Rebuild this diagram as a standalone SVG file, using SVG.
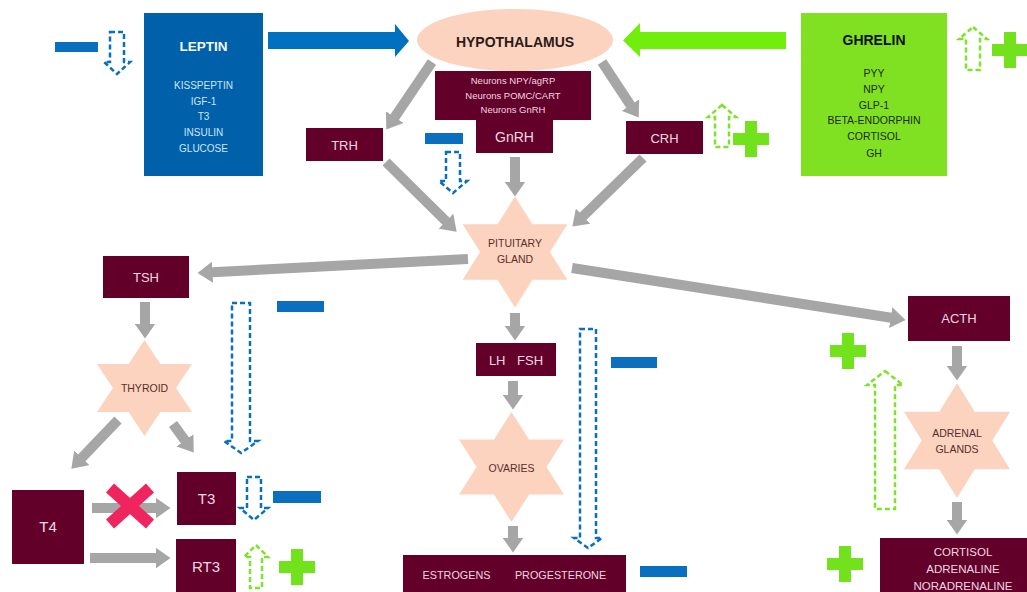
<svg xmlns="http://www.w3.org/2000/svg" xmlns:xlink="http://www.w3.org/1999/xlink" width="1027" height="592" viewBox="0 0 1027 592">
<style>
text{font-family:"Liberation Sans",Arial,sans-serif;text-anchor:middle}
.mb{fill:#62002A}
.mt{fill:#F2D6E0}
.st{fill:#FBD3BE}
.stt{fill:#5A2E2E;font-size:10.5px}
.g{stroke:#A6A6A6;stroke-width:10;fill:none;marker-end:url(#ah)}
.db{fill:none;stroke:#0A6FBF;stroke-width:2.5;stroke-dasharray:5 3}
.dg{fill:none;stroke:#7EE22A;stroke-width:2.5;stroke-dasharray:5 3}
.minus{fill:#0A6FBF}
.plus{fill:#72E21C}
.lt{fill:#CFE6F7;font-size:10px}
.gt{fill:#1E2A0E;font-size:10.5px}
</style>
<defs>
<marker id="ah" viewBox="0 -1.05 1.5 2.1" markerWidth="1.5" markerHeight="2.1" refX="0.05" refY="0" orient="auto" markerUnits="strokeWidth">
<path d="M0,-1.05 L1.5,0 L0,1.05 Z" fill="#A6A6A6"/>
</marker>
<polygon id="star" points="0,-100 28.9,-50 86.6,-50 57.7,0 86.6,50 28.9,50 0,100 -28.9,50 -86.6,50 -57.7,0 -86.6,-50 -28.9,-50"/>
<path id="plus" d="M-18,-6 H-6 V-18 H6 V-6 H18 V6 H6 V18 H-6 V6 H-18 Z"/>
</defs>
<rect width="1027" height="592" fill="#FFFFFF"/>

<g id="connectors">
<path class="g" d="M432,62 L394.4,117.6"/>
<path class="g" d="M602,62 L630.7,105.5"/>
<path class="g" d="M515,157 L515,182"/>
<path class="g" d="M386,162 L446.3,221.5"/>
<path class="g" d="M643,158 L582.8,216.5"/>
<path class="g" d="M468,259 L212,272.2"/>
<path class="g" d="M572,268 L891.2,317.7"/>
<path class="g" d="M515,313 L515,326"/>
<path class="g" d="M513,381 L513,395"/>
<path class="g" d="M513,526 L513,538"/>
<path class="g" d="M145,302 L145,324"/>
<path class="g" d="M118,420 L81.4,458.2"/>
<path class="g" d="M173,424 L185.2,440.8"/>
<path class="g" d="M92,508 L156,508"/>
<path class="g" d="M90,558 L156,558"/>
<path class="g" d="M957,346 L957,366"/>
<path class="g" d="M957,502 L957,520"/>
<polygon id="leptin-arrow" fill="#0070C0" points="268,32 395,32 395,24 409,41 395,57 395,49 268,49"/>
<polygon id="ghrelin-arrow" fill="#72EE0C" points="786,32 640,32 640,23 623,40.5 640,57 640,49 786,49"/>
</g>

<g id="effects">
<rect class="minus" x="55" y="42" width="43" height="10"/>
<rect class="minus" x="425" y="133" width="38" height="11"/>
<rect class="minus" x="277" y="301" width="47" height="11"/>
<rect class="minus" x="273" y="491" width="48" height="12"/>
<rect class="minus" x="611" y="357" width="46" height="11"/>
<rect class="minus" x="640" y="566" width="47" height="11"/>
<polygon class="db" points="110,32 124,32 124,62 130,62 117,74 104,62 110,62"/>
<polygon class="db" points="446,152 460,152 460,181 467,181 453,193 439,181 446,181"/>
<polygon class="db" points="232,303 250,303 250,441 258,441 241,453 224,441 232,441"/>
<polygon class="db" points="247,477 261,477 261,508 268,508 254,520 240,508 247,508"/>
<polygon class="db" points="580,329 596,329 596,538 602,538 588,548 574,538 580,538"/>
<polygon class="dg" points="973,27 987,39 980,39 980,70 966,70 966,39 959,39"/>
<polygon class="dg" points="722,105 736,117 729,117 729,147 715,147 715,117 708,117"/>
<polygon class="dg" points="256,545 268,557 262,557 262,588 250,588 250,557 244,557"/>
<polygon class="dg" points="885,371 903,385 895,385 895,509 875,509 875,385 867,385"/>
<use xlink:href="#plus" class="plus" transform="translate(1010,50)"/>
<use xlink:href="#plus" class="plus" transform="translate(751,139)"/>
<use xlink:href="#plus" class="plus" transform="translate(297,567)"/>
<use xlink:href="#plus" class="plus" transform="translate(848,351)"/>
<use xlink:href="#plus" class="plus" transform="translate(845,564)"/>
<g id="block-x" stroke="#F0245E" stroke-width="12">
<line x1="110" y1="488" x2="150" y2="524"/>
<line x1="150" y1="488" x2="110" y2="524"/>
</g>
</g>

<g id="leptin">
<rect x="144" y="13" width="119" height="163" fill="#0060AA"/>
<text x="203.5" y="51" fill="#F4F8FC" font-size="13.5" font-weight="bold">LEPTIN</text>
<text class="lt" x="203.5" y="89">KISSPEPTIN</text>
<text class="lt" x="203.5" y="105">IGF-1</text>
<text class="lt" x="203.5" y="120">T3</text>
<text class="lt" x="203.5" y="136">INSULIN</text>
<text class="lt" x="203.5" y="152">GLUCOSE</text>
</g>

<g id="ghrelin">
<rect x="801" y="13" width="146" height="163" fill="#80E022"/>
<text x="874" y="45" fill="#111" font-size="14" font-weight="bold">GHRELIN</text>
<text class="gt" x="874" y="77">PYY</text>
<text class="gt" x="874" y="93">NPY</text>
<text class="gt" x="874" y="109">GLP-1</text>
<text class="gt" x="874" y="124">BETA-ENDORPHIN</text>
<text class="gt" x="874" y="140">CORTISOL</text>
<text class="gt" x="874" y="157">GH</text>
</g>

<g id="hypothalamus">
<ellipse cx="515" cy="40" rx="98" ry="31" fill="#FBD3BE"/>
<text x="515" y="47" fill="#2A1A1A" font-size="14" font-weight="bold">HYPOTHALAMUS</text>
</g>

<g id="neurons">
<rect class="mb" x="435" y="71" width="156" height="49"/>
<text class="mt" x="513" y="84" font-size="9.5">Neurons NPY/agRP</text>
<text class="mt" x="513" y="99" font-size="9.5">Neurons POMC/CART</text>
<text class="mt" x="513" y="113" font-size="9.5">Neurons GnRH</text>
</g>

<g id="gnrh">
<rect class="mb" x="476" y="120" width="77" height="33"/>
<text class="mt" x="514.5" y="142" font-size="14">GnRH</text>
</g>

<g id="trh">
<rect class="mb" x="306" y="128" width="77" height="33"/>
<text class="mt" x="344.5" y="149.5" font-size="13">TRH</text>
</g>

<g id="crh">
<rect class="mb" x="626" y="121" width="77" height="33"/>
<text class="mt" x="664.5" y="142.5" font-size="13">CRH</text>
</g>

<g id="pituitary">
<use xlink:href="#star" class="st" transform="translate(515,252) scale(0.605,0.555)"/>
<text class="stt" x="515" y="247" font-size="10">PITUITARY</text>
<text class="stt" x="515" y="263" font-size="10">GLAND</text>
</g>

<g id="tsh">
<rect class="mb" x="103" y="256" width="86" height="42"/>
<text class="mt" x="146" y="281.5" font-size="13">TSH</text>
</g>

<g id="thyroid">
<use xlink:href="#star" class="st" transform="translate(144.5,388) scale(0.548,0.48)"/>
<text class="stt" x="144.5" y="392">THYROID</text>
</g>

<g id="t4">
<rect class="mb" x="12" y="490" width="72" height="74"/>
<text class="mt" x="48" y="532" font-size="15">T4</text>
</g>

<g id="t3">
<rect class="mb" x="177" y="472" width="59" height="53"/>
<text class="mt" x="206.5" y="504" font-size="15">T3</text>
</g>

<g id="rt3">
<rect class="mb" x="176" y="539" width="60" height="56"/>
<text class="mt" x="206" y="572" font-size="15">RT3</text>
</g>

<g id="lhfsh">
<rect class="mb" x="476" y="343" width="80" height="33"/>
<text class="mt" x="516" y="364.5" font-size="13" word-spacing="8">LH FSH</text>
</g>

<g id="ovaries">
<use xlink:href="#star" class="st" transform="translate(511.5,467) scale(0.606,0.55)"/>
<text class="stt" x="511.5" y="472" font-size="12">OVARIES</text>
</g>

<g id="estrogens">
<rect class="mb" x="403" y="555" width="223" height="40"/>
<text class="mt" x="456.5" y="579" font-size="10.8">ESTROGENS</text>
<text class="mt" x="560.5" y="579" font-size="10.8">PROGESTERONE</text>
</g>

<g id="acth">
<rect class="mb" x="908" y="296" width="102" height="45"/>
<text class="mt" x="959" y="323" font-size="13">ACTH</text>
</g>

<g id="adrenal">
<use xlink:href="#star" class="st" transform="translate(957,440.5) scale(0.612,0.575)"/>
<text class="stt" x="957" y="437">ADRENAL</text>
<text class="stt" x="957" y="453">GLANDS</text>
</g>

<g id="cortisol">
<rect class="mb" x="880" y="538" width="160" height="60"/>
<text class="mt" x="963" y="556" font-size="11.5">CORTISOL</text>
<text class="mt" x="963" y="573" font-size="11.5">ADRENALINE</text>
<text class="mt" x="963" y="590" font-size="11.5">NORADRENALINE</text>
</g>
</svg>
